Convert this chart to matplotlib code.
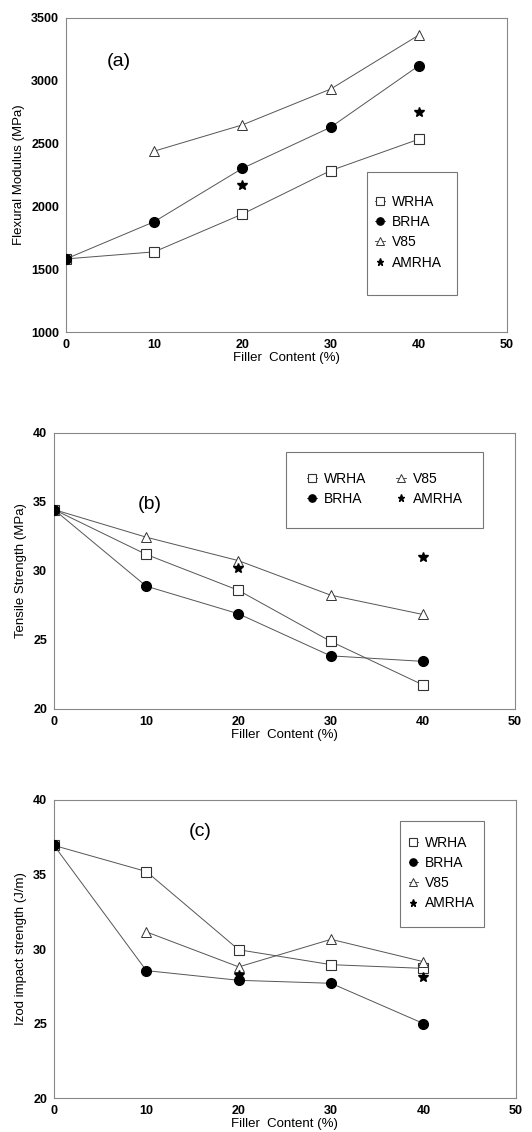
import matplotlib.pyplot as plt
from matplotlib import font_manager
from matplotlib.patches import Rectangle

plt.rcParams['font.family'] = ['Liberation Sans', 'DejaVu Sans']

installed = {f.name for f in font_manager.fontManager.ttflist}
LEG_FONT = 'Liberation Sans Narrow' if 'Liberation Sans Narrow' in installed else 'Liberation Sans'

x = [0, 10, 20, 30, 40]
x_v85 = [10, 20, 30, 40]
x_am = [20, 40]

# (a) flexural modulus, MPa
flex_wrha = [1582, 1638, 1939, 2285, 2535]
flex_brha = [1582, 1878, 2303, 2630, 3120]
flex_v85 = [2440, 2649, 2934, 3364]
flex_am = [2170, 2750]

# (b) tensile strength, MPa
ts_wrha = [34.45, 31.2, 28.6, 24.9, 21.75]
ts_brha = [34.45, 28.9, 26.9, 23.85, 23.45]
ts_v85 = [34.45, 32.45, 30.75, 28.25, 26.85]
ts_am = [30.25, 31.0]

# (c) izod impact strength, J/m
iz_wrha = [36.95, 35.2, 29.95, 28.95, 28.7]
iz_brha = [36.95, 28.55, 27.9, 27.7, 25.0]
iz_v85 = [31.15, 28.8, 30.65, 29.15]
iz_am = [28.25, 28.1]

LINE = '#555555'


def draw(ax, wrha, brha, v85, v85_x, am):
    ax.plot(x, wrha, color=LINE, lw=0.7, marker='s', ms=7, mfc='white',
            mec='#333333', mew=0.8, label='WRHA', zorder=3)
    ax.plot(x, brha, color=LINE, lw=0.7, marker='o', ms=7, mfc='black',
            mec='black', label='BRHA', zorder=4)
    ax.plot(v85_x, v85, color=LINE, lw=0.7, marker='^', ms=7, mfc='white',
            mec='#333333', mew=0.7, label='V85', zorder=3)
    ax.plot(x_am, am, ls='none', marker='*', ms=7, color='black',
            label='AMRHA', zorder=5)
    ax.set_xlim(0, 50)
    ax.set_xticks([0, 10, 20, 30, 40, 50])
    ax.tick_params(length=0, labelsize=9, pad=5)
    for lab in ax.get_xticklabels() + ax.get_yticklabels():
        lab.set_fontweight('bold')
    for s in ax.spines.values():
        s.set_color('#888888')
        s.set_linewidth(0.8)
    ax.set_xlabel('Filler  Content (%)', fontsize=9.5, labelpad=1)


def legend_box(ax, box, center, ncol=1, spacing=0.45, colsp=2.0):
    # hand-drawn frame: the original box has more room above/below than at the sides
    ax.add_patch(Rectangle(box[:2], box[2], box[3], transform=ax.transAxes,
                           fill=False, ec='#777777', lw=0.8, zorder=6))
    ax.legend(loc='center', bbox_to_anchor=center, ncol=ncol, frameon=False,
              prop={'family': LEG_FONT, 'size': 10}, handlelength=0.7,
              handletextpad=0.5, labelspacing=spacing, columnspacing=colsp,
              borderpad=0, borderaxespad=0, markerscale=0.75)


fig = plt.figure(figsize=(5.32, 11.32), dpi=100)

ax1 = fig.add_axes([0.124, 0.7067, 0.829, 0.2774])
draw(ax1, flex_wrha, flex_brha, flex_v85, x_v85, flex_am)
ax1.set_ylim(1000, 3500)
ax1.set_yticks([1000, 1500, 2000, 2500, 3000, 3500])
ax1.set_ylabel('Flexural Modulus (MPa)', fontsize=9.5)
ax1.text(6, 3150, '(a)', fontsize=14, ha='center', va='center')
legend_box(ax1, (0.683, 0.118, 0.204, 0.392), (0.776, 0.318))

ax2 = fig.add_axes([0.1015, 0.3737, 0.8665, 0.2438])
draw(ax2, ts_wrha, ts_brha, ts_v85, x, ts_am)
ax2.set_ylim(20, 40)
ax2.set_yticks([20, 25, 30, 35, 40])
ax2.set_ylabel('Tensile Strength (MPa)', fontsize=9.5)
ax2.text(10.4, 34.8, '(b)', fontsize=14, ha='center', va='center')
legend_box(ax2, (0.503, 0.656, 0.427, 0.275), (0.718, 0.797), ncol=2,
           spacing=0.4, colsp=2.2)

ax3 = fig.add_axes([0.1015, 0.030, 0.868, 0.2633])
draw(ax3, iz_wrha, iz_brha, iz_v85, x_v85, iz_am)
ax3.set_ylim(20, 40)
ax3.set_yticks([20, 25, 30, 35, 40])
ax3.set_ylabel('Izod impact strength (J/m)', fontsize=9.5)
ax3.text(15.8, 37.9, '(c)', fontsize=14, ha='center', va='center')
legend_box(ax3, (0.749, 0.574, 0.182, 0.356), (0.84, 0.755))

fig.savefig('out.png', dpi=100)
